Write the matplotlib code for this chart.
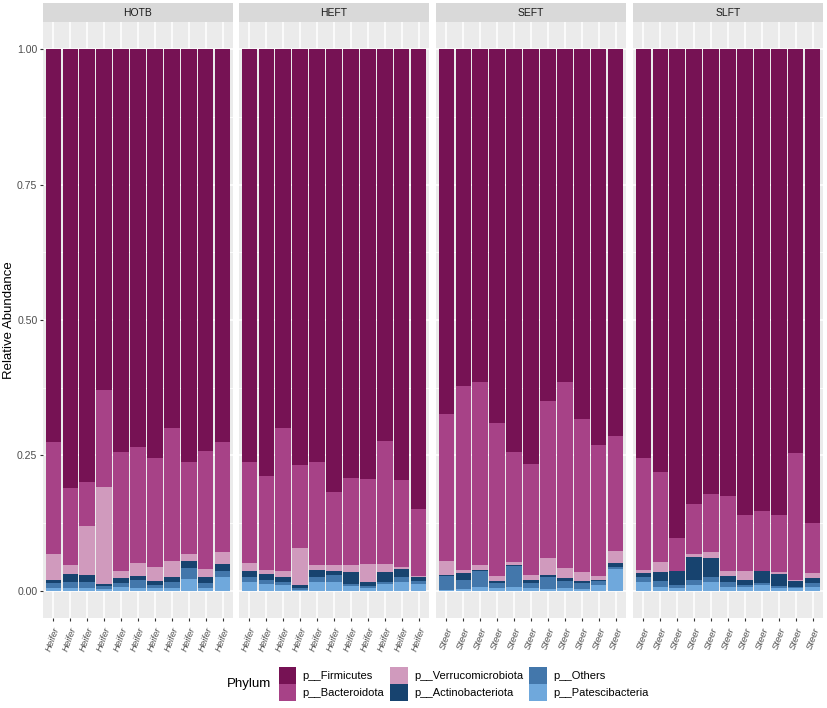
import matplotlib
matplotlib.use("Agg")
import matplotlib.pyplot as plt
from matplotlib.patches import Patch
import numpy as np

plt.rcParams['font.family'] = ['Liberation Sans', 'DejaVu Sans']

groups = ["HOTB", "HEFT", "SEFT", "SLFT"]
sample_labels = {"HOTB": "Heifer", "HEFT": "Heifer", "SEFT": "Steer", "SLFT": "Steer"}

phyla = ["p__Firmicutes", "p__Bacteroidota", "p__Verrucomicrobiota",
         "p__Actinobacteriota", "p__Others", "p__Patescibacteria"]
colors = ["#761254", "#A74287", "#D09ABD", "#17436F", "#4377AB", "#6FA8DC"]

# relative abundance per sample (11 samples per group)
firmicutes = {
    "HOTB": [0.726, 0.810, 0.799, 0.630, 0.743, 0.734, 0.754, 0.700, 0.763, 0.741, 0.725],
    "HEFT": [0.762, 0.787, 0.700, 0.767, 0.762, 0.817, 0.791, 0.794, 0.723, 0.796, 0.848],
    "SEFT": [0.673, 0.622, 0.614, 0.691, 0.743, 0.766, 0.649, 0.614, 0.683, 0.731, 0.715],
    "SLFT": [0.754, 0.780, 0.903, 0.839, 0.821, 0.824, 0.859, 0.852, 0.859, 0.746, 0.875],
}
bacteroidota = {
    "HOTB": [0.206, 0.143, 0.081, 0.179, 0.220, 0.215, 0.201, 0.244, 0.169, 0.219, 0.204],
    "HEFT": [0.186, 0.174, 0.264, 0.153, 0.191, 0.136, 0.162, 0.157, 0.228, 0.159, 0.125],
    "SEFT": [0.271, 0.339, 0.339, 0.281, 0.204, 0.205, 0.291, 0.344, 0.283, 0.241, 0.211],
    "SLFT": [0.207, 0.166, 0.060, 0.093, 0.107, 0.140, 0.104, 0.111, 0.107, 0.234, 0.092],
}
verrucomicrobiota = {
    "HOTB": [0.048, 0.016, 0.090, 0.178, 0.014, 0.023, 0.027, 0.031, 0.013, 0.014, 0.022],
    "HEFT": [0.016, 0.008, 0.010, 0.069, 0.009, 0.010, 0.013, 0.032, 0.015, 0.004, 0.002],
    "SEFT": [0.027, 0.006, 0.008, 0.009, 0.005, 0.008, 0.031, 0.019, 0.016, 0.007, 0.023],
    "SLFT": [0.006, 0.020, 0.001, 0.006, 0.012, 0.008, 0.017, 0.001, 0.003, 0.002, 0.010],
}
actinobacteriota = {
    "HOTB": [0.005, 0.014, 0.013, 0.004, 0.009, 0.008, 0.008, 0.008, 0.012, 0.011, 0.012],
    "HEFT": [0.010, 0.010, 0.010, 0.005, 0.012, 0.008, 0.022, 0.008, 0.017, 0.016, 0.007],
    "SEFT": [0.001, 0.012, 0.002, 0.005, 0.002, 0.006, 0.003, 0.005, 0.003, 0.002, 0.006],
    "SLFT": [0.007, 0.015, 0.026, 0.042, 0.034, 0.011, 0.009, 0.021, 0.022, 0.010, 0.009],
}
others = {
    "HOTB": [0.010, 0.011, 0.012, 0.005, 0.007, 0.014, 0.005, 0.011, 0.021, 0.010, 0.012],
    "HEFT": [0.009, 0.008, 0.006, 0.004, 0.009, 0.013, 0.003, 0.003, 0.004, 0.008, 0.005],
    "SEFT": [0.027, 0.017, 0.029, 0.009, 0.039, 0.010, 0.022, 0.013, 0.011, 0.009, 0.005],
    "SLFT": [0.009, 0.012, 0.005, 0.009, 0.009, 0.009, 0.004, 0.004, 0.004, 0.003, 0.006],
}
patescibacteria = {
    "HOTB": [0.005, 0.006, 0.005, 0.004, 0.007, 0.006, 0.005, 0.006, 0.022, 0.005, 0.025],
    "HEFT": [0.017, 0.013, 0.010, 0.002, 0.017, 0.016, 0.009, 0.006, 0.013, 0.017, 0.013],
    "SEFT": [0.001, 0.004, 0.008, 0.005, 0.007, 0.005, 0.004, 0.005, 0.004, 0.010, 0.040],
    "SLFT": [0.017, 0.007, 0.005, 0.011, 0.017, 0.008, 0.007, 0.011, 0.005, 0.005, 0.008],
}
# bottom-to-top stacking order
stack = [patescibacteria, others, actinobacteriota, verrucomicrobiota, bacteroidota, firmicutes]
stack_colors = colors[::-1]

W, H = 827, 708
fig = plt.figure(figsize=(W / 100, H / 100), dpi=100)

panel_x = [43, 239, 436, 633]
panel_w = 190
panel_top, panel_bot = 22, 618
strip_top = 3

for gi, g in enumerate(groups):
    x0 = panel_x[gi]
    ax = fig.add_axes([x0 / W, 1 - panel_bot / H, panel_w / W, (panel_bot - panel_top) / H])
    ax.set_facecolor("#EBEBEB")
    n = len(firmicutes[g])
    xs = np.arange(1, n + 1)
    bottom = np.zeros(n)
    for vals, c in zip(stack, stack_colors):
        v = np.array(vals[g])
        ax.bar(xs, v, bottom=bottom, width=0.9, color=c, linewidth=0, zorder=3)
        bottom = bottom + v
    ax.set_xlim(0.4, n + 0.6)
    ax.set_ylim(-0.05, 1.05)
    ax.set_yticks([0, 0.25, 0.5, 0.75, 1.0])
    ax.set_yticks([0.125, 0.375, 0.625, 0.875], minor=True)
    ax.set_xticks(xs)
    ax.grid(which="major", color="white", linewidth=1.1, zorder=0)
    ax.grid(which="minor", axis="y", color="white", linewidth=0.55, zorder=0)
    ax.set_axisbelow(True)
    for s in ax.spines.values():
        s.set_visible(False)
    ax.tick_params(axis="both", which="major", length=2.5, width=0.8, color="#333333")
    ax.tick_params(axis="y", which="major", pad=1.5)
    ax.tick_params(axis="y", which="minor", length=0)
    ax.set_xticklabels([sample_labels[g]] * n, rotation=70, ha="right",
                       rotation_mode="anchor", fontsize=6.8, color="#4D4D4D", style="italic")
    if gi == 0:
        ax.set_yticklabels(["0.00", "0.25", "0.50", "0.75", "1.00"], fontsize=7.6, color="#4D4D4D")
    else:
        ax.tick_params(axis="y", which="both", left=False, labelleft=False)

    # facet strip
    sax = fig.add_axes([x0 / W, 1 - panel_top / H, panel_w / W, (panel_top - strip_top) / H])
    sax.set_facecolor("#D9D9D9")
    sax.set_xticks([])
    sax.set_yticks([])
    for s in sax.spines.values():
        s.set_visible(False)
    sax.text(0.5, 0.5, g, ha="center", va="center", fontsize=7.5, color="#1A1A1A",
             transform=sax.transAxes)

fig.text(9 / W, 1 - 320 / H, "Relative Abundance", fontsize=9.5, rotation=90,
         ha="center", va="center")

handles = [Patch(facecolor=c, edgecolor="none") for c in colors]
fig.legend(handles, phyla, ncol=3, loc="center left", bbox_to_anchor=(273 / W, 1 - 684 / H),
           frameon=False, fontsize=8, handlelength=1.6, handleheight=2.0, borderpad=0,
           handletextpad=0.55, columnspacing=0.55, labelspacing=0.05)
fig.text(227 / W, 1 - 684 / H, "Phylum", fontsize=9.5, ha="left", va="center")

fig.savefig("out.png", dpi=100)
